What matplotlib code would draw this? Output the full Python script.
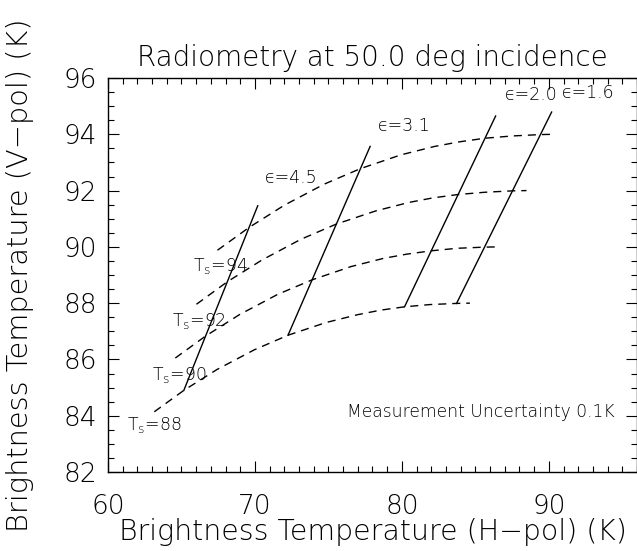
import matplotlib
matplotlib.use("Agg")
import matplotlib.pyplot as plt
from matplotlib.ticker import MultipleLocator

plt.rcParams['font.family'] = ['DejaVu Sans']
plt.rcParams['font.weight'] = 'light'
plt.rcParams['axes.titleweight'] = 'light'
plt.rcParams['axes.labelweight'] = 'light'
plt.rcParams['mathtext.default'] = 'regular'

# constant surface temperature curves (dashed), brightness temps in K
ts_labels = ["88", "90", "92", "94"]
ts88_h = [63.15, 65.16, 67.41, 69.95, 72.25, 74.83, 76.99, 78.54, 80.18, 81.92, 83.72, 84.63]
ts88_v = [84.14, 84.90, 85.64, 86.34, 86.86, 87.31, 87.59, 87.75, 87.87, 87.95, 87.99, 88.00]
ts90_h = [64.58, 66.64, 68.94, 71.54, 73.90, 76.54, 78.74, 80.32, 82.00, 83.78, 85.62, 86.55]
ts90_v = [86.05, 86.83, 87.59, 88.31, 88.83, 89.30, 89.59, 89.74, 89.86, 89.95, 89.99, 90.00]
ts92_h = [66.02, 68.12, 70.47, 73.13, 75.54, 78.24, 80.49, 82.11, 83.83, 85.64, 87.53, 88.48]
ts92_v = [87.96, 88.76, 89.53, 90.27, 90.81, 91.28, 91.58, 91.74, 91.86, 91.94, 91.99, 92.00]
ts94_h = [67.45, 69.60, 72.00, 74.72, 77.18, 79.94, 82.24, 83.89, 85.65, 87.50, 89.43, 90.40]
ts94_v = [89.88, 90.69, 91.48, 92.23, 92.78, 93.27, 93.57, 93.73, 93.86, 93.94, 93.99, 94.00]

# constant permittivity lines (solid), bottom and top end
eps_labels = ["4.5", "3.1", "2.0", "1.6"]
eps_h = [[65.16, 70.19], [72.25, 77.84], [80.18, 86.38], [83.72, 90.19]]
eps_v = [[84.90, 91.46], [86.86, 93.57], [87.87, 94.65], [87.99, 94.79]]

fig = plt.figure(figsize=(6.37, 5.51), dpi=100)
ax = fig.add_axes([108/637, 79/551, 529/637, 394/551])

dash = (0, (5.8, 4.3))
for h, v in [(ts88_h, ts88_v), (ts90_h, ts90_v), (ts92_h, ts92_v), (ts94_h, ts94_v)]:
    ax.plot(h, v, color='black', lw=1.0, linestyle=dash)
for h, v in zip(eps_h, eps_v):
    ax.plot(h, v, color='black', lw=1.0)

# labels
ts_pos = [(61.3, 83.68), (62.99, 85.45), (64.35, 87.36), (65.78, 89.32)]
for lab, (x, y) in zip(ts_labels, ts_pos):
    ax.text(x, y, "T$_s$=" + lab, fontsize=12.5, ha='left', va='center')
eps_pos = [(70.68, 92.45), (78.37, 94.29), (87.0, 95.39), (90.88, 95.48)]
for lab, (x, y) in zip(eps_labels, eps_pos):
    ax.text(x, y, "\u03f5=" + lab, fontsize=12.5, ha='left', va='center')
ax.text(76.26, 84.14, "Measurement Uncertainty 0.1K", fontsize=12.3, ha='left', va='center')

ax.set_xlim(60, 96)
ax.set_ylim(82, 96)
ax.xaxis.set_major_locator(MultipleLocator(10))
ax.xaxis.set_minor_locator(MultipleLocator(1))
ax.yaxis.set_major_locator(MultipleLocator(2))
ax.yaxis.set_minor_locator(MultipleLocator(0.5))
ax.tick_params(which='both', direction='in', top=True, right=True, width=0.8)
ax.tick_params(which='major', length=8)
ax.tick_params(which='minor', length=4)
ax.tick_params(axis='x', which='major', labelsize=19, pad=16)
ax.tick_params(axis='y', which='major', labelsize=19, pad=8)
for s in ax.spines.values():
    s.set_linewidth(1.0)

ax.set_xlabel("Brightness Temperature (H\u2212pol) (K)", fontsize=20.4, labelpad=-1)
ax.set_ylabel("Brightness Temperature (V\u2212pol) (K)", fontsize=20.8, labelpad=21)
ax.set_title("Radiometry at 50.0 deg incidence", fontsize=20, pad=9)

fig.savefig("out.png", dpi=100)
